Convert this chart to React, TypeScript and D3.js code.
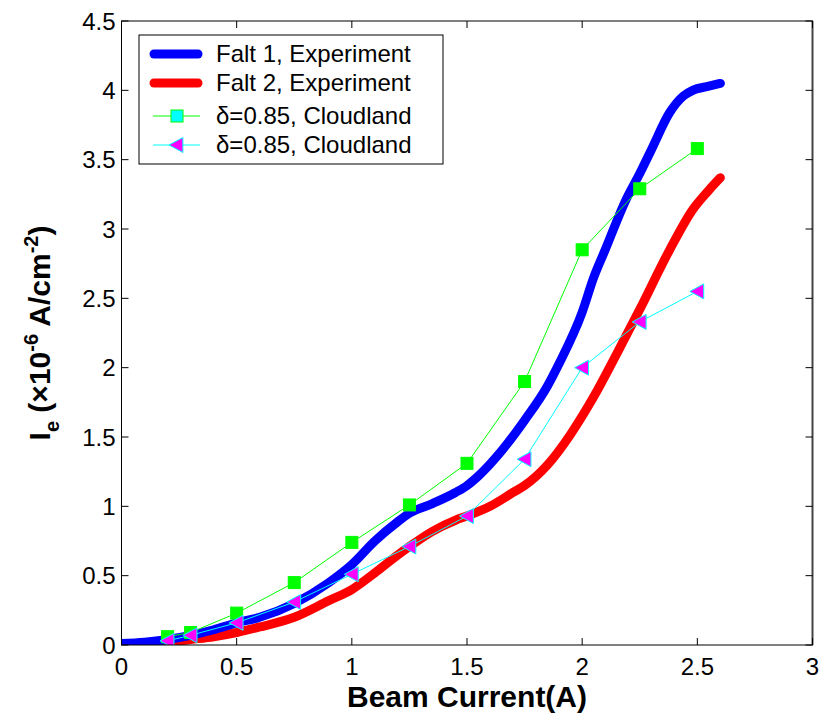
import React from "react";
import * as d3 from "d3";

const xTicks = [0, 0.5, 1, 1.5, 2, 2.5, 3];
const yTicks = [0, 0.5, 1, 1.5, 2, 2.5, 3, 3.5, 4, 4.5];

const falt1X = [0, 0.1, 0.2, 0.3, 0.4, 0.5, 0.6, 0.75, 0.9, 1.0, 1.1, 1.2, 1.25, 1.35, 1.45, 1.5, 1.55, 1.65, 1.75, 1.85, 1.9, 2.0, 2.05, 2.1, 2.19, 2.25, 2.3, 2.38, 2.44, 2.48, 2.55, 2.6];
const falt1Y = [0.01, 0.02, 0.04, 0.07, 0.11, 0.16, 0.2, 0.3, 0.45, 0.58, 0.75, 0.89, 0.95, 1.02, 1.1, 1.15, 1.22, 1.4, 1.62, 1.87, 2.03, 2.4, 2.65, 2.85, 3.21, 3.4, 3.57, 3.84, 3.96, 4.0, 4.03, 4.05];

const falt2X = [0, 0.1, 0.2, 0.3, 0.4, 0.5, 0.6, 0.75, 0.9, 1.0, 1.1, 1.2, 1.25, 1.35, 1.45, 1.5, 1.6, 1.7, 1.75, 1.85, 1.95, 2.0, 2.05, 2.15, 2.25, 2.38, 2.48, 2.55, 2.6];
const falt2Y = [0.0, 0.01, 0.02, 0.04, 0.06, 0.09, 0.13, 0.2, 0.32, 0.4, 0.52, 0.65, 0.71, 0.82, 0.9, 0.93, 1.0, 1.1, 1.15, 1.3, 1.52, 1.65, 1.79, 2.1, 2.42, 2.85, 3.14, 3.28, 3.37];

const simX = [0.2, 0.3, 0.5, 0.75, 1.0, 1.25, 1.5, 1.75, 2.0, 2.25, 2.5];
const simSqY = [0.06, 0.09, 0.23, 0.45, 0.74, 1.01, 1.31, 1.9, 2.85, 3.29, 3.58];
const simTriY = [0.03, 0.07, 0.16, 0.31, 0.51, 0.71, 0.93, 1.34, 2.0, 2.33, 2.55];

const legendLabels = ["Falt 1, Experiment", "Falt 2, Experiment", "δ=0.85, Cloudland", "δ=0.85, Cloudland"];

const W = 824, H = 719;
const L = 121.5, R = 812.5, T = 21, B = 645;
const FONT = "Liberation Sans, Arial, Helvetica, sans-serif";

export default function App() {
  const x = d3.scaleLinear().domain([0, 3]).range([L, R]);
  const y = d3.scaleLinear().domain([0, 4.5]).range([B, T]);
  const line = d3.line<[number, number]>().x(d => x(d[0])).y(d => y(d[1])).curve(d3.curveMonotoneX);
  const lin = d3.line<[number, number]>().x(d => x(d[0])).y(d => y(d[1]));
  const f1 = falt1X.map((v, i) => [v, falt1Y[i]] as [number, number]);
  const f2 = falt2X.map((v, i) => [v, falt2Y[i]] as [number, number]);
  const sq = simX.map((v, i) => [v, simSqY[i]] as [number, number]);
  const tr = simX.map((v, i) => [v, simTriY[i]] as [number, number]);
  const tri = (cx: number, cy: number, s: number) => `M${cx - s},${cy} L${cx + s * 0.85},${cy - s} L${cx + s * 0.85},${cy + s} Z`;
  const tk = 7;
  const lgX = 139, lgY = 35, lgW = 304, lgH = 129;
  const rows = [54, 83, 116, 145];
  return (
    <svg width={W} height={H} style={{ position: "absolute", left: 0, top: 0, background: "#fff" }} fontFamily={FONT}>
      <rect x={0} y={0} width={W} height={H} fill="#fff" />
      <defs>
        <clipPath id="pc"><rect x={L} y={T} width={R - L} height={B - T} /></clipPath>
      </defs>
      <g clipPath="url(#pc)">
        <path d={line(f2) || ""} fill="none" stroke="#ff0000" strokeWidth={9} strokeLinecap="round" strokeLinejoin="round" />
        <path d={line(f1) || ""} fill="none" stroke="#0000ff" strokeWidth={9} strokeLinecap="round" strokeLinejoin="round" />
        <path d={lin(sq) || ""} fill="none" stroke="#00ff00" strokeWidth={1} />
        {sq.map((d, i) => (
          <rect key={i} x={x(d[0]) - 6} y={y(d[1]) - 6} width={12} height={12} fill="#00ff00" stroke="#00ff00" strokeWidth={1} />
        ))}
        <path d={lin(tr) || ""} fill="none" stroke="#00ffff" strokeWidth={1} />
        {tr.map((d, i) => (
          <path key={i} d={tri(x(d[0]), y(d[1]), 7.5)} fill="#ff00ff" stroke="#00ffff" strokeWidth={1} />
        ))}
      </g>
      {/* axes box */}
      <rect x={L} y={T} width={R - L} height={B - T} fill="none" stroke="#000" strokeWidth={1} />
      <line x1={R} y1={T} x2={R} y2={B} stroke="#444" strokeWidth={2} />
      {xTicks.map((t, i) => (
        <g key={i}>
          <line x1={x(t)} x2={x(t)} y1={B} y2={B - tk} stroke="#000" />
          <line x1={x(t)} x2={x(t)} y1={T} y2={T + tk} stroke="#000" />
          <text x={x(t)} y={B + 30} fontSize={24} textAnchor="middle" fill="#000">{t}</text>
        </g>
      ))}
      {yTicks.map((t, i) => (
        <g key={i}>
          <line x1={L} x2={L + tk} y1={y(t)} y2={y(t)} stroke="#000" />
          <line x1={R} x2={R - tk} y1={y(t)} y2={y(t)} stroke="#000" />
          <text x={L - 6} y={y(t) + 8.5} fontSize={24} textAnchor="end" fill="#000">{t}</text>
        </g>
      ))}
      <text x={(L + R) / 2} y={707} fontSize={30} fontWeight="bold" textAnchor="middle" fill="#000">Beam Current(A)</text>
      <text transform={`translate(50,${(T + B) / 2}) rotate(-90)`} fontSize={30} fontWeight="bold" textAnchor="middle" fill="#000">
        <tspan>I</tspan>
        <tspan fontSize={20} dy={9}>e</tspan>
        <tspan dy={-9}> (×10</tspan>
        <tspan fontSize={20} dy={-12}>-6</tspan>
        <tspan dy={12}> A/cm</tspan>
        <tspan fontSize={20} dy={-12}>-2</tspan>
        <tspan dy={12}>)</tspan>
      </text>
      {/* legend */}
      <rect x={lgX} y={lgY} width={lgW} height={lgH} fill="#fff" stroke="#000" strokeWidth={1} />
      <line x1={154} x2={198} y1={rows[0]} y2={rows[0]} stroke="#0000ff" strokeWidth={9} strokeLinecap="round" />
      <line x1={154} x2={198} y1={rows[1]} y2={rows[1]} stroke="#ff0000" strokeWidth={9} strokeLinecap="round" />
      <line x1={153} x2={200} y1={rows[2]} y2={rows[2]} stroke="#00ff00" strokeWidth={1} />
      <rect x={171} y={rows[2] - 6} width={12} height={12} fill="#00ffff" stroke="#00ff00" strokeWidth={1} />
      <line x1={153} x2={200} y1={rows[3]} y2={rows[3]} stroke="#00ffff" strokeWidth={1} />
      <path d={tri(176.5, rows[3], 7.5)} fill="#ff00ff" stroke="#00ffff" strokeWidth={1} />
      {legendLabels.map((s, i) => (
        <text key={i} x={216} y={rows[i] + 8} fontSize={24} fill="#000">{s}</text>
      ))}
    </svg>
  );
}
